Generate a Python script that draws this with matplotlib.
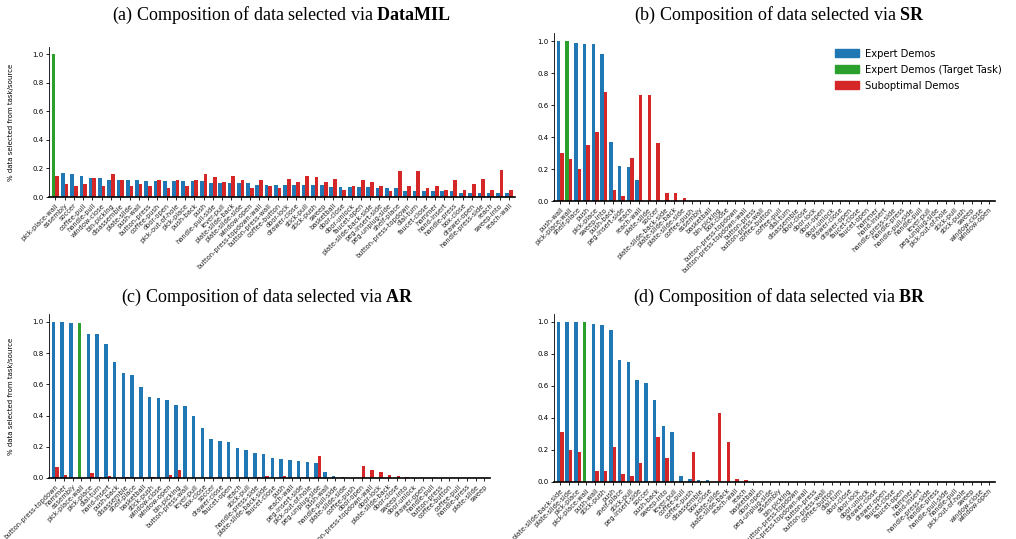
import numpy as np
import matplotlib
matplotlib.use("Agg")
import matplotlib.pyplot as plt
from matplotlib.patches import Patch

plt.rcParams['mathtext.fontset'] = 'custom'
plt.rcParams['mathtext.rm'] = 'Liberation Serif'
plt.rcParams['mathtext.bf'] = 'Liberation Serif:bold'

TARGET = "pick-place-wall"

# ---------------- (a) DataMIL ----------------
tasks_a = ["pick-place-wall", "assembly", "soccer", "coffee-pull", "handle-pull", "window-close",
           "bin-picking", "disassemble", "plate-slide", "push-wall", "button-press", "coffee-push",
           "door-open", "pick-out-of-hole", "pick-place", "push-back", "push", "handle-pull-side",
           "lever-pull", "plate-slide-back", "plate-slide-side", "window-open",
           "button-press-topdown-wall", "button-press-wall", "coffee-button", "door-lock",
           "drawer-close", "stick-pull", "stick-push", "sweep", "basketball", "door-close",
           "door-unlock", "faucet-open", "plate-slide-back-side", "peg-insert-side",
           "peg-unplug-side", "shelf-place", "button-press-topdown", "dial-turn", "faucet-close",
           "hammer", "hand-insert", "handle-press", "box-close", "drawer-open",
           "handle-press-side", "reach", "sweep-into", "reach-wall"]
expert_a = [1.0, 0.17, 0.16, 0.15, 0.13, 0.13, 0.12, 0.12, 0.12, 0.12, 0.11, 0.11, 0.11, 0.11,
            0.11, 0.11, 0.11, 0.10, 0.10, 0.10, 0.10, 0.10, 0.085, 0.085, 0.085, 0.085, 0.085,
            0.085, 0.085, 0.085, 0.07, 0.07, 0.07, 0.07, 0.07, 0.06, 0.06, 0.06, 0.045, 0.045,
            0.045, 0.045, 0.045, 0.045, 0.03, 0.03, 0.03, 0.03, 0.03, 0.025]
subopt_a = [0.15, 0.09, 0.08, 0.09, 0.13, 0.08, 0.16, 0.12, 0.08, 0.09, 0.08, 0.12, 0.065, 0.12,
            0.08, 0.12, 0.16, 0.14, 0.105, 0.15, 0.12, 0.065, 0.12, 0.08, 0.065, 0.125, 0.105,
            0.15, 0.14, 0.105, 0.125, 0.05, 0.08, 0.12, 0.105, 0.08, 0.04, 0.18, 0.08, 0.18,
            0.065, 0.08, 0.05, 0.12, 0.05, 0.09, 0.125, 0.05, 0.19, 0.05]

# ---------------- (b) SR ----------------
tasks_b = ["push-wall", "pick-place-wall", "shelf-place", "push", "pick-place", "sweep-into",
           "push-back", "peg-insert-side", "reach", "reach-wall", "plate-slide", "soccer",
           "plate-slide-back-side", "plate-slide-back", "plate-slide-side", "coffee-push",
           "assembly", "basketball", "bin-picking", "box-close", "button-press-topdown",
           "button-press-topdown-wall", "button-press", "button-press-wall", "coffee-button",
           "coffee-pull", "dial-turn", "disassemble", "door-close", "door-lock", "door-open",
           "door-unlock", "drawer-close", "drawer-open", "faucet-close", "faucet-open", "hammer",
           "hand-insert", "handle-press-side", "handle-press", "handle-pull-side", "handle-pull",
           "lever-pull", "peg-unplug-side", "pick-out-of-hole", "stick-pull", "stick-push",
           "sweep", "window-close", "window-open"]
expert_b = [1.0, 1.0, 0.99, 0.98, 0.98, 0.92, 0.37, 0.22, 0.21, 0.13] + [0.0] * 40
subopt_b = [0.30, 0.26, 0.20, 0.35, 0.43, 0.68, 0.07, 0.03, 0.27, 0.66, 0.66, 0.36, 0.05, 0.05,
            0.02] + [0.0] * 35

# ---------------- (c) AR ----------------
tasks_c = ["button-press-topdown", "hammer", "assembly", "pick-place-wall", "pick-place",
           "dial-turn", "hand-insert", "push-back", "disassemble", "shelf-place", "basketball",
           "stick-push", "window-close", "window-open", "bin-picking", "button-press-wall",
           "lever-pull", "box-close", "soccer", "drawer-close", "faucet-open", "reach",
           "stick-pull", "handle-press-side", "plate-slide-back-side", "faucet-close", "push",
           "reach-wall", "peg-insert-side", "pick-out-of-hole", "peg-unplug-side", "push-wall",
           "handle-pull-side", "plate-slide-side", "coffee-push", "door-open",
           "button-press-topdown-wall", "door-lock", "plate-slide-back", "door-close",
           "sweep-into", "door-unlock", "drawer-open", "handle-pull", "button-press",
           "coffee-button", "coffee-pull", "handle-press", "plate-slide", "sweep"]
expert_c = [1.0, 1.0, 0.99, 0.99, 0.92, 0.92, 0.86, 0.74, 0.67, 0.66, 0.58, 0.52, 0.51, 0.50,
            0.47, 0.46, 0.40, 0.32, 0.25, 0.24, 0.23, 0.19, 0.18, 0.16, 0.155, 0.13, 0.12,
            0.115, 0.11, 0.10, 0.095, 0.038, 0.013, 0.006] + [0.0] * 16
subopt_c = [0.07, 0.02, 0.0, 0.0, 0.032, 0.006, 0.013, 0.0, 0.006, 0.0, 0.0, 0.006, 0.0, 0.019,
            0.05, 0.0, 0.0, 0.0, 0.0, 0.0, 0.0, 0.0, 0.0, 0.006, 0.013, 0.0, 0.013, 0.0, 0.0,
            0.0, 0.14, 0.0, 0.0, 0.0, 0.0, 0.077, 0.05, 0.04, 0.02, 0.013, 0.006] + [0.0] * 9

# ---------------- (d) BR ----------------
tasks_d = ["plate-slide-back-side", "plate-slide-side", "pick-place", "pick-place-wall",
           "push-wall", "stick-push", "push", "shelf-place", "stick-pull", "peg-insert-side",
           "soccer", "push-back", "sweep-into", "lever-pull", "coffee-pull", "coffee-push",
           "disassemble", "box-close", "plate-slide", "plate-slide-back", "reach-wall", "reach",
           "basketball", "door-open", "peg-unplug-side", "assembly", "bin-picking",
           "button-press-topdown", "button-press-topdown-wall", "button-press",
           "button-press-wall", "coffee-button", "dial-turn", "door-close", "door-lock",
           "door-unlock", "drawer-close", "drawer-open", "faucet-close", "faucet-open", "hammer",
           "hand-insert", "handle-press-side", "handle-press", "handle-pull-side", "handle-pull",
           "pick-out-of-hole", "sweep", "window-close", "window-open"]
expert_d = [1.0, 1.0, 1.0, 1.0, 0.99, 0.98, 0.95, 0.76, 0.75, 0.64, 0.62, 0.51, 0.35, 0.31,
            0.04, 0.02, 0.015, 0.01] + [0.0] * 32
subopt_d = [0.31, 0.20, 0.19, 0.0, 0.07, 0.07, 0.22, 0.05, 0.04, 0.12, 0.0, 0.28, 0.15, 0.0,
            0.0, 0.19, 0.0, 0.0, 0.43, 0.25, 0.02, 0.01] + [0.0] * 28

panels = [
    ("(a) Composition of data selected via ", "DataMIL", tasks_a, expert_a, subopt_a),
    ("(b) Composition of data selected via ", "SR", tasks_b, expert_b, subopt_b),
    ("(c) Composition of data selected via ", "AR", tasks_c, expert_c, subopt_c),
    ("(d) Composition of data selected via ", "BR", tasks_d, expert_d, subopt_d),
]

BLUE, GREEN, RED = "#1f77b4", "#2ca02c", "#d62728"
W, H = 1016, 539
fig = plt.figure(figsize=(W / 100, H / 100), dpi=100)

# axes boxes in pixels: left, right, top, bottom
boxes = [(49, 515, 47, 197), (554, 995, 33, 201), (49, 490, 314, 478), (554, 995, 314, 482)]
title_pos = [(282, 15), (780, 15), (268, 297), (780, 297)]

for i, (ttl, bold, tasks, ex, so) in enumerate(panels):
    l, r, t, b = boxes[i]
    ax = fig.add_axes([l / W, 1 - b / H, (r - l) / W, (b - t) / H])
    x = np.arange(len(tasks))
    ecol = [GREEN if tk == TARGET else BLUE for tk in tasks]
    ax.bar(x - 0.2, ex, width=0.4, color=ecol)
    ax.bar(x + 0.2, so, width=0.4, color=RED)
    ax.set_xticks(x)
    ax.set_xticklabels(tasks, rotation=45, ha='right', rotation_mode='anchor', fontsize=4.8,
                       color='#222222')
    ax.tick_params(axis='x', length=2.5, width=0.6, pad=1.5)
    ax.tick_params(axis='y', labelsize=5.0, length=2.5, width=0.6, pad=1.5)
    ax.set_xlim(-0.7, len(tasks) - 0.35)
    ax.set_ylim(0, 1.05)
    ax.set_yticks([0.0, 0.2, 0.4, 0.6, 0.8, 1.0])
    for s in ['top', 'right']:
        ax.spines[s].set_visible(False)
    ax.spines['left'].set_linewidth(0.6)
    ax.spines['bottom'].set_linewidth(1.2)
    if i in (0, 2):
        ax.set_ylabel("% data selected from task/source", fontsize=5.0, labelpad=13)
    tx, ty = title_pos[i]
    fig.text(tx / W, 1 - ty / H, ttl + r"$\mathbf{" + bold + "}$", ha='center', va='center',
             fontsize=13, family='Liberation Serif')
    if i == 1:
        handles = [Patch(color=BLUE, label="Expert Demos"),
                   Patch(color=GREEN, label="Expert Demos (Target Task)"),
                   Patch(color=RED, label="Suboptimal Demos")]
        ax.legend(handles=handles, loc='upper right', fontsize=7.2, frameon=False,
                  bbox_to_anchor=(1.035, 0.96), handlelength=2.4, handleheight=0.9,
                  handletextpad=0.6, labelspacing=0.6)

fig.savefig("out.png", dpi=100)
